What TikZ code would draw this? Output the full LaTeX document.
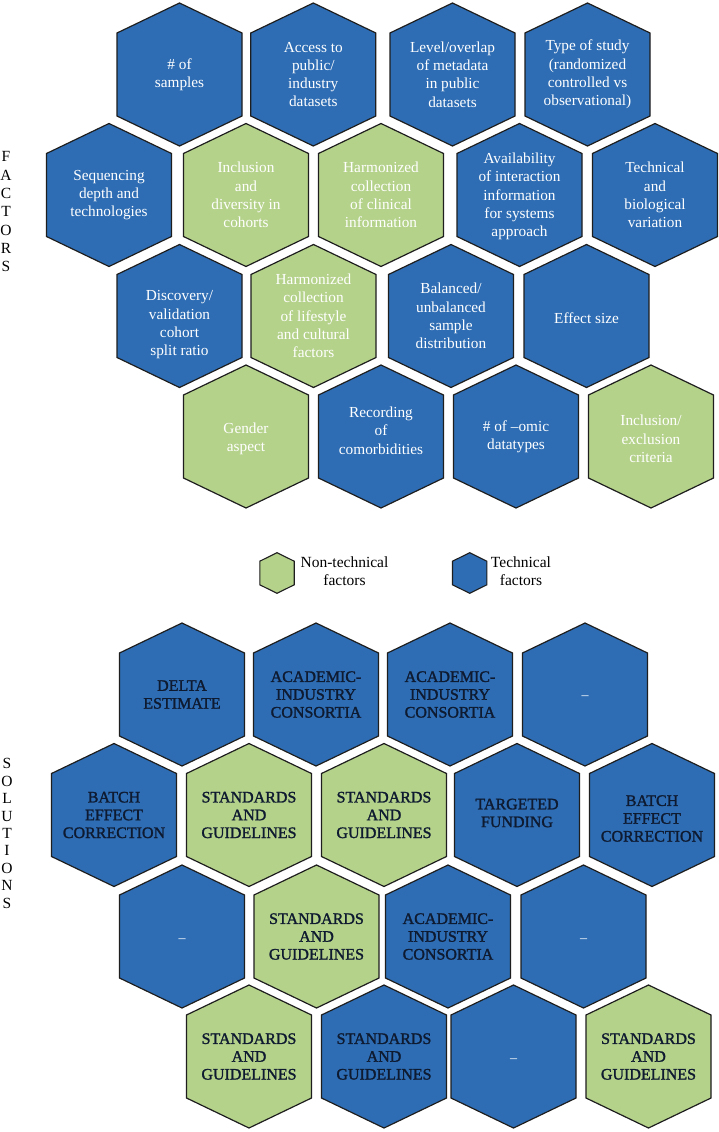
\documentclass[tikz,border=0pt]{standalone}
\usepackage{fontspec}
\setmainfont{Liberation Serif}
\newfontfamily\solfont[FakeBold=1.5]{Liberation Serif}
\definecolor{hexblue}{HTML}{2E6DB4}
\definecolor{hexgreen}{HTML}{B5D28B}
\definecolor{hexedge}{HTML}{1E1E1E}
\definecolor{soltext}{HTML}{0E1A30}
\tikzset{
  bighex/.style={minimum width=132pt, minimum height=150pt, inner sep=0pt, align=center,
    path picture={\filldraw[fill=#1, draw=hexedge, line width=1.2pt]
      ([shift={(0,-71.5)}]path picture bounding box.center) -- ++(62.5,30) -- ++(0,83)
      -- ++(-62.5,30) -- ++(-62.5,-30) -- ++(0,-83) -- cycle;}},
  smallhex/.style={minimum width=40pt, minimum height=46pt, inner sep=0pt,
    path picture={\filldraw[fill=#1, draw=hexedge, line width=1.1pt]
      ([shift={(0,-20.3)}]path picture bounding box.center) -- ++(17.2,8.5) -- ++(0,23.6)
      -- ++(-17.2,8.5) -- ++(-17.2,-8.5) -- ++(0,-23.6) -- cycle;}},
  ftext/.style={align=center, inner sep=0pt, text=white, font=\fontsize{15.3}{18.3}\selectfont},
  stext/.style={align=center, inner sep=0pt, text=soltext, font=\solfont\fontsize{16}{17.8}\selectfont},
  dtext/.style={inner sep=0pt, text=white, font=\fontsize{14}{16}\selectfont},
  factor/.style={bighex=#1, ftext},
  solution/.style={bighex=#1, stext},
  legendtext/.style={align=center, text=black, font=\fontsize{15.5}{18.3}\selectfont},
  sidelabel/.style={align=center, text=black, inner sep=0pt},
}
\begin{document}
\begin{tikzpicture}[x=1pt, y=-1pt]
\fill[white] (0,0) rectangle (718,1132);
\useasboundingbox (0,0) rectangle (718,1132);

% side labels
\node[sidelabel, font=\fontsize{15.5}{18.3}\selectfont] (lfac) at (6,211.7) {F\\A\\C\\T\\O\\R\\S};
\node[sidelabel, font=\fontsize{15.5}{17.4}\selectfont] (lsol) at (7,833.5) {S\\O\\L\\U\\T\\I\\O\\N\\S};

% factors
\node[factor=hexblue]  (f11) at (179.5,74.5) {\# of\\samples};
\node[factor=hexblue]  (f12) at (313.3,74.5) {Access to\\public/\\industry\\datasets};
\node[factor=hexblue]  (f13) at (452.5,74.5) {Level/overlap\\of metadata\\in public\\datasets};
\node[factor=hexblue]  (f14) at (587.5,74.5) {Type of study\\(randomized\\controlled vs\\observational)};

\node[factor=hexblue]  (f21) at (109,195) {Sequencing\\depth and\\technologies};
\node[factor=hexgreen] (f22) at (246,195) {Inclusion\\and\\diversity in\\cohorts};
\node[factor=hexgreen] (f23) at (381,195) {Harmonized\\collection\\of clinical\\information};
\node[factor=hexblue]  (f24) at (519.5,195) {};
\node[ftext] (f24t) at (519.5,196.5) {Availability\\of interaction\\information\\for systems\\approach};
\node[factor=hexblue]  (f25) at (655,195) {Technical\\and\\biological\\variation};

\node[factor=hexblue]  (f31) at (179.5,316) {};
\node[ftext] (f31t) at (179.5,325) {Discovery/\\validation\\cohort\\split ratio};
\node[factor=hexgreen] (f32) at (313.5,316) {Harmonized\\collection\\of lifestyle\\and cultural\\factors};
\node[factor=hexblue]  (f33) at (451,316) {Balanced/\\unbalanced\\sample\\distribution};
\node[factor=hexblue]  (f34) at (586.5,316) {};
\node[ftext] (f34t) at (586.5,318) {Effect size};

\node[factor=hexgreen] (f41) at (246,436.5) {};
\node[ftext] (f41t) at (246,439) {Gender\\aspect};
\node[factor=hexblue]  (f42) at (381,436.5) {};
\node[ftext] (f42t) at (381,430.5) {Recording\\of\\comorbidities};
\node[factor=hexblue]  (f43) at (516,436.5) {\# of --omic\\datatypes};
\node[factor=hexgreen] (f44) at (651,436.5) {};
\node[ftext] (f44t) at (651,439) {Inclusion/\\exclusion\\criteria};

% legend
\node[smallhex=hexgreen] (lg) at (277,573) {};
\node[legendtext] (lgt) at (344.5,571) {Non-technical\\factors};
\node[smallhex=hexblue] (lb) at (469.7,573) {};
\node[legendtext] (lbt) at (521,571) {Technical\\factors};

% solutions
\node[solution=hexblue]  (s11) at (182,694.5) {DELTA\\ESTIMATE};
\node[solution=hexblue]  (s12) at (316,694.5) {ACADEMIC-\\INDUSTRY\\CONSORTIA};
\node[solution=hexblue]  (s13) at (450,694.5) {ACADEMIC-\\INDUSTRY\\CONSORTIA};
\node[solution=hexblue]  (s14) at (585,694.5) {};
\node[dtext] (s14t) at (585,698) {--};

\node[solution=hexblue]  (s21) at (114,815) {BATCH\\EFFECT\\CORRECTION};
\node[solution=hexgreen] (s22) at (249,815) {STANDARDS\\AND\\GUIDELINES};
\node[solution=hexgreen] (s23) at (384,815) {STANDARDS\\AND\\GUIDELINES};
\node[solution=hexblue]  (s24) at (517,815) {};
\node[stext] (s24t) at (517,813) {TARGETED\\FUNDING};
\node[solution=hexblue]  (s25) at (652,815) {};
\node[stext] (s25t) at (652,818.5) {BATCH\\EFFECT\\CORRECTION};

\node[solution=hexblue]  (s31) at (182,936.5) {};
\node[dtext] (s31t) at (182,940.5) {--};
\node[solution=hexgreen] (s32) at (316.5,936.5) {STANDARDS\\AND\\GUIDELINES};
\node[solution=hexblue]  (s33) at (448,936.5) {ACADEMIC-\\INDUSTRY\\CONSORTIA};
\node[solution=hexblue]  (s34) at (583.5,936.5) {};
\node[dtext] (s34t) at (583.5,940.5) {--};

\node[solution=hexgreen] (s41) at (249,1056.5) {STANDARDS\\AND\\GUIDELINES};
\node[solution=hexblue]  (s42) at (384,1056.5) {STANDARDS\\AND\\GUIDELINES};
\node[solution=hexblue]  (s43) at (513.5,1056.5) {};
\node[dtext] (s43t) at (513.5,1060.5) {--};
\node[solution=hexgreen] (s44) at (648.5,1056.5) {STANDARDS\\AND\\GUIDELINES};
\end{tikzpicture}
\end{document}
